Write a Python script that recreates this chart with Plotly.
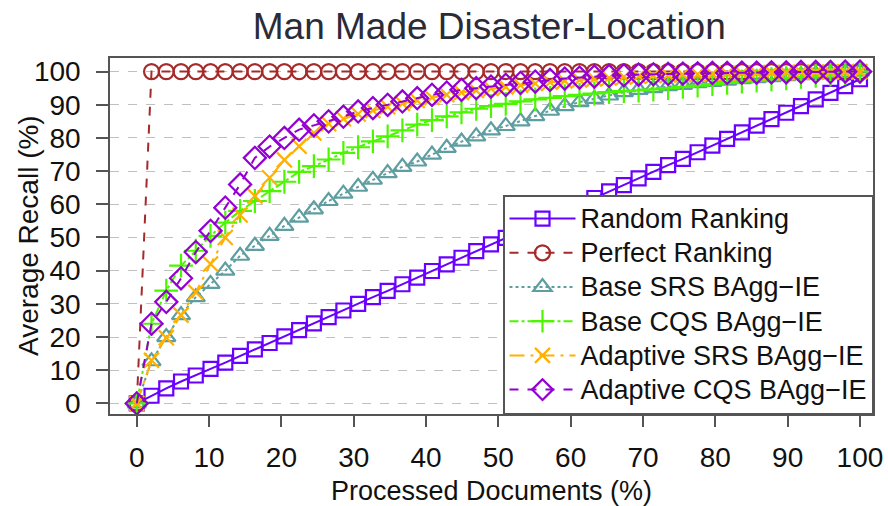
import plotly.graph_objects as go

# ---- data ----
processed = [0, 2.04, 4.08, 6.12, 8.16, 10.2, 12.24, 14.29, 16.33, 18.37,
             20.41, 22.45, 24.49, 26.53, 28.57, 30.61, 32.65, 34.69, 36.73, 38.78,
             40.82, 42.86, 44.9, 46.94, 48.98, 51.02, 53.06, 55.1, 57.14, 59.18,
             61.22, 63.27, 65.31, 67.35, 69.39, 71.43, 73.47, 75.51, 77.55, 79.59,
             81.63, 83.67, 85.71, 87.76, 89.8, 91.84, 93.88, 95.92, 97.96, 100]

random_ranking = [0, 2.3, 4.5, 6.6, 8.4, 10.4, 12.3, 14.3, 16.3, 18.2,
                  20.2, 22.1, 24.1, 26.0, 28.0, 30.0, 32.0, 33.9, 35.9, 37.9,
                  39.9, 41.9, 43.9, 45.9, 47.9, 49.9, 51.9, 53.9, 55.9, 57.9,
                  59.9, 61.9, 63.9, 65.8, 67.8, 69.8, 71.8, 73.7, 75.7, 77.7,
                  79.7, 81.7, 83.7, 85.7, 87.6, 89.6, 91.6, 93.6, 95.6, 97.7]

perfect_ranking = [0] + [100] * 49

base_srs = [0, 12.7, 20.0, 26.6, 32.0, 36.0, 40.0, 44.5, 47.5, 50.5,
            53.5, 56.0, 58.5, 61.0, 63.2, 65.3, 67.4, 69.4, 71.3, 72.9,
            75.0, 77.0, 78.9, 80.5, 82.3, 83.6, 85.0, 86.6, 88.2, 89.6,
            90.8, 91.8, 92.8, 93.8, 94.5, 95.0, 95.6, 96.0, 96.5, 96.9,
            97.3, 97.7, 98.0, 98.3, 98.6, 98.9, 99.2, 99.5, 99.7, 100]

base_cqs = [0, 24.0, 34.0, 41.5, 46.0, 50.5, 54.5, 58.0, 61.0, 64.0,
            66.8, 69.8, 71.5, 73.5, 75.5, 77.2, 79.0, 80.5, 82.3, 84.0,
            85.4, 86.5, 87.7, 88.8, 89.6, 90.3, 91.0, 91.6, 92.1, 92.6,
            93.0, 93.4, 93.8, 94.1, 94.3, 94.6, 95.0, 95.4, 95.8, 96.2,
            96.6, 97.0, 97.3, 97.7, 98.0, 98.4, 98.7, 99.1, 99.5, 100]

adaptive_srs = [0, 13.0, 19.8, 26.6, 33.5, 42.0, 50.0, 56.8, 62.5, 68.0,
                73.4, 77.5, 81.5, 84.3, 85.8, 87.2, 88.3, 89.4, 90.4, 91.3,
                92.2, 93.0, 93.7, 94.3, 94.9, 95.4, 95.9, 96.4, 96.8, 97.2,
                97.5, 97.8, 98.1, 98.4, 98.6, 98.8, 99.0, 99.1, 99.2, 99.3,
                99.4, 99.5, 99.6, 99.7, 99.7, 99.8, 99.8, 99.9, 99.9, 100]

adaptive_cqs = [0, 24.0, 30.6, 37.7, 45.6, 52.0, 59.0, 66.0, 74.0, 77.4,
                80.0, 82.5, 83.8, 85.0, 86.4, 88.0, 89.0, 90.0, 91.0, 92.0,
                93.0, 93.7, 94.5, 95.0, 95.5, 96.0, 96.6, 97.0, 97.5, 97.9,
                98.2, 98.5, 98.7, 98.9, 99.1, 99.2, 99.3, 99.4, 99.5, 99.6,
                99.6, 99.7, 99.7, 99.8, 99.8, 99.9, 99.9, 99.9, 100, 100]

series_names = ["Random Ranking", "Perfect Ranking", "Base SRS BAgg\u2212IE",
                "Base CQS BAgg\u2212IE", "Adaptive SRS BAgg\u2212IE", "Adaptive CQS BAgg\u2212IE"]
y_ticks = [0, 10, 20, 30, 40, 50, 60, 70, 80, 90, 100]
x_ticks = [0, 10, 20, 30, 40, 50, 60, 70, 80, 90, 100]

# ---- styles ----
styles = [
    dict(color="#6a00ff", dash="solid", symbol="square-open", size=14),
    dict(color="#a52a2a", dash="dash", symbol="circle-open", size=15),
    dict(color="#5f9ea0", dash="dot", symbol="triangle-up-open", size=16),
    dict(color="#4cf500", dash="dashdot", symbol="cross-thin-open", size=17),
    dict(color="#ffb000", dash="longdashdot", symbol="x-thin-open", size=15),
    dict(color="#9400d3", dash="dash", symbol="diamond-open", size=17),
]
all_y = [random_ranking, perfect_ranking, base_srs, base_cqs, adaptive_srs, adaptive_cqs]

fig = go.Figure()
for name, ys, st in zip(series_names, all_y, styles):
    fig.add_trace(go.Scatter(
        x=processed, y=ys, mode="lines+markers",
        name='<span style="font-size:27px">' + name + '</span>',
        line=dict(color=st["color"], width=2, dash=st["dash"]),
        marker=dict(symbol=st["symbol"], size=st["size"], color=st["color"],
                    line=dict(color=st["color"], width=2.2)),
    ))

FONT = "Liberation Sans, Arial, sans-serif"
axis_font = dict(family=FONT, size=28, color="#111111")

fig.update_layout(
    width=888, height=506,
    margin=dict(l=110, r=15, t=58, b=92, autoexpand=False),
    paper_bgcolor="white", plot_bgcolor="white",
    font=dict(family=FONT, color="#111111"),
    title=dict(text="Man Made Disaster-Location", x=0.551, xref="container", xanchor="center",
               y=0.948, yref="container", yanchor="middle",
               font=dict(family=FONT, size=37, color="#2b2b38")),
    showlegend=True,
    legend=dict(x=1, y=0, xanchor="right", yanchor="bottom", xref="paper", yref="paper",
                bgcolor="white", bordercolor="#555555", borderwidth=1.5,
                font=dict(family=FONT, size=24, color="#111111"),
                itemwidth=66, traceorder="normal"),
    xaxis=dict(range=[-3.7, 101.8], tickvals=x_ticks, ticks="outside", ticklen=11,
               tickwidth=1.5, tickcolor="#555555", showgrid=False, zeroline=False,
               showline=True, linecolor="#555555", linewidth=1.5, mirror=True,
               tickfont=axis_font, ticklabelstandoff=7, automargin=False),
    yaxis=dict(range=[-3.2, 104.1], tickvals=y_ticks, ticks="outside", ticklen=12,
               tickwidth=1.5, tickcolor="#555555", showgrid=True, gridcolor="#c0c0c0",
               griddash="dash", gridwidth=1, zeroline=False,
               showline=True, linecolor="#555555", linewidth=1.5, mirror=True,
               tickfont=axis_font, ticklabelstandoff=10, automargin=False),
    annotations=[
        dict(text="Average Recall (%)", textangle=-90, showarrow=False,
             xref="paper", yref="paper", x=(28 - 110) / 763, y=0.5,
             xanchor="center", yanchor="middle",
             font=dict(family=FONT, size=28, color="#111111")),
        dict(text="Processed Documents (%)", showarrow=False,
             xref="paper", yref="paper", x=0.5, y=-(490.5 - 414) / 356,
             xanchor="center", yanchor="middle",
             font=dict(family=FONT, size=27, color="#111111")),
    ],
)

fig.write_html("out.html")
